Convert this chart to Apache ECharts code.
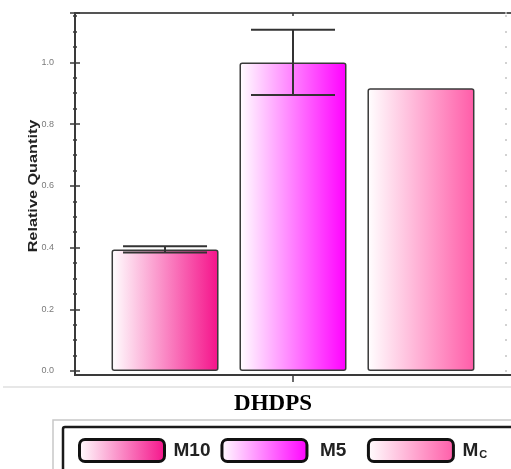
<!DOCTYPE html>
<html><head><meta charset="utf-8">
<script src="https://cdn.jsdelivr.net/npm/echarts@6/dist/echarts.min.js"></script>
<style>html,body{margin:0;padding:0;background:#fff}#c{width:511px;height:469px}</style>
</head><body><div id="c"></div>
<script>
const categories = ['DHDPS'];
const seriesNames = ['M10', 'M5', 'Mc'];
const m10Values = [0.394];
const m5Values = [1.0];
const mcValues = [0.916];
const m10Errors = [0.01];
const m5Errors = [0.106];
const mcErrors = [0];
const yTickLabels = ['0.0', '0.2', '0.4', '0.6', '0.8', '1.0'];
const yAxisName = 'Relative Quantity';

const BAR_W = 107, GAP = 0.196;
const YMAX = 1.16;

function grad(c0, c1) {
  return new echarts.graphic.LinearGradient(0, 0, 1, 0, [
    { offset: 0, color: c0 }, { offset: 1, color: c1 }
  ]);
}
const fills = [grad('#ffffff', '#f5128a'), grad('#ffffff', '#ff00ff'), grad('#ffffff', '#ff5ca8')];
const allValues = [m10Values, m5Values, mcValues];
const allErrors = [m10Errors, m5Errors, mcErrors];

const barSeries = seriesNames.map((n, i) => ({
  name: n, type: 'bar', xAxisIndex: 0, yAxisIndex: 0,
  barWidth: BAR_W, barGap: (GAP * 100) + '%',
  data: allValues[i],
  itemStyle: { color: fills[i], borderColor: '#3a3a3a', borderWidth: 1.5, borderRadius: 2 },
  emphasis: { disabled: true }, z: 2
}));

const errData = [];
allErrors.forEach((arr, s) => arr.forEach((e, c) => { if (e > 0) errData.push([c, allValues[s][c], e, s]); }));

const errSeries = {
  type: 'custom', xAxisIndex: 0, yAxisIndex: 0, z: 5,
  data: errData,
  renderItem(params, api) {
    const c = api.value(0), v = api.value(1), e = api.value(2), s = api.value(3);
    const off = (s - (seriesNames.length - 1) / 2) * BAR_W * (1 + GAP);
    const top = api.coord([c, v + e]);
    const bot = api.coord([c, v - e]);
    const x = top[0] + off;
    const hw = 42;
    const st = { stroke: '#333', lineWidth: 2 };
    return { type: 'group', children: [
      { type: 'line', shape: { x1: x, y1: top[1], x2: x, y2: bot[1] }, style: st },
      { type: 'line', shape: { x1: x - hw, y1: top[1], x2: x + hw, y2: top[1] }, style: st },
      { type: 'line', shape: { x1: x - hw, y1: bot[1], x2: x + hw, y2: bot[1] }, style: st }
    ]};
  }
};

const yBase = { type: 'value', min: 0, max: YMAX, splitLine: { show: false } };

const option = {
  animation: false,
  backgroundColor: '#fff',
  grid: { left: 75, right: -5, top: 13, bottom: 98, containLabel: false },
  xAxis: [
    { type: 'category', data: categories, position: 'bottom', offset: 4,
      axisLine: { onZero: false, lineStyle: { color: '#3a3a3a', width: 2 } },
      axisTick: { show: true, alignWithLabel: true, length: 7, lineStyle: { color: '#3a3a3a', width: 1.5 } },
      axisLabel: { show: false } },
    { type: 'category', data: categories, position: 'top',
      axisLine: { onZero: false, lineStyle: { color: '#555', width: 2 } },
      axisTick: { show: true, inside: true, alignWithLabel: true, length: 3, lineStyle: { color: '#333', width: 1.5 } },
      axisLabel: { show: false } }
  ],
  yAxis: [
    Object.assign({}, yBase, { interval: 0.2, position: 'left',
      axisLine: { show: true, onZero: false, lineStyle: { color: '#3a3a3a', width: 2 } },
      axisTick: { show: false },
      axisLabel: { margin: 21, fontSize: 9, color: '#7a7a7a', fontFamily: 'Arial, Liberation Sans, sans-serif',
        formatter: v => { const k = Math.round(v / 0.2); return Math.abs(v - k * 0.2) < 1e-6 && yTickLabels[k] ? yTickLabels[k] : ''; } } }),
    Object.assign({}, yBase, { interval: 0.2, position: 'left', offset: -5,
      axisLine: { show: false }, axisLabel: { show: false },
      axisTick: { show: true, length: 10, lineStyle: { color: '#3a3a3a', width: 1.5 } } }),
    Object.assign({}, yBase, { interval: 0.05, position: 'left', offset: -2,
      axisLine: { show: false }, axisLabel: { show: false },
      axisTick: { show: true, length: 4, lineStyle: { color: '#3a3a3a', width: 1.5 } } }),
    Object.assign({}, yBase, { interval: 0.05, position: 'right', offset: -6,
      axisLine: { show: false }, axisLabel: { show: false },
      axisTick: { show: true, length: 2, lineStyle: { color: '#c4c4c4', width: 1.5 } } })
  ],
  legend: {
    left: 78, top: 438, padding: 0, orient: 'horizontal', selectedMode: false,
    itemWidth: 85, itemHeight: 22, itemGap: 10, icon: 'roundRect',
    itemStyle: { borderColor: '#111', borderWidth: 3 },
    data: seriesNames,
    formatter: n => n === 'Mc' ? '{t|M}{s|C}' : (n === 'M5' ? '{w|' + n + '}{g|\u00a0\u00a0}' : '{t|' + n + '}'),
    textStyle: { fontSize: 19, fontWeight: 'bold', color: '#222', fontFamily: 'Arial, Liberation Sans, sans-serif',
      rich: {
        t: { fontSize: 19, fontWeight: 'bold', color: '#222', padding: [0, 0, 0, 4] },
        w: { fontSize: 19, fontWeight: 'bold', color: '#222', padding: [0, 0, 0, 8] },
        g: { fontSize: 19, fontWeight: 'bold', color: '#222' },
        s: { fontSize: 11, fontWeight: 'bold', color: '#222', verticalAlign: 'bottom', padding: [9, 0, 0, 1] }
      } }
  },
  graphic: [
    { type: 'line', shape: { x1: 75, y1: 366, x2: 75, y2: 376 }, style: { stroke: '#3a3a3a', lineWidth: 2 } },
    { type: 'line', shape: { x1: 3, y1: 387, x2: 511, y2: 387 }, style: { stroke: '#cfcfcf', lineWidth: 1 } },
    { type: 'rect', shape: { x: 53, y: 420, width: 480, height: 70 }, style: { fill: null, stroke: '#c8c8c8', lineWidth: 1.5 } },
    { type: 'rect', shape: { x: 63, y: 427, width: 470, height: 70, r: 2 }, style: { fill: null, stroke: '#1a1a1a', lineWidth: 2.5 } },
    { type: 'text', x: 33, y: 186, rotation: Math.PI / 2, scaleX: 1.25,
      style: { text: yAxisName, font: 'bold 13px Arial, Liberation Sans, sans-serif', fill: '#222', align: 'center', verticalAlign: 'middle' } },
    { type: 'text', x: 273, y: 404,
      style: { text: categories[0], font: 'bold 23px "Liberation Serif", "Times New Roman", serif', fill: '#000', align: 'center', verticalAlign: 'middle' } }
  ],
  series: barSeries.concat([errSeries])
};

const chart = echarts.init(document.getElementById('c'), null, { renderer: 'canvas' });
chart.setOption(option);
</script>
</body></html>
